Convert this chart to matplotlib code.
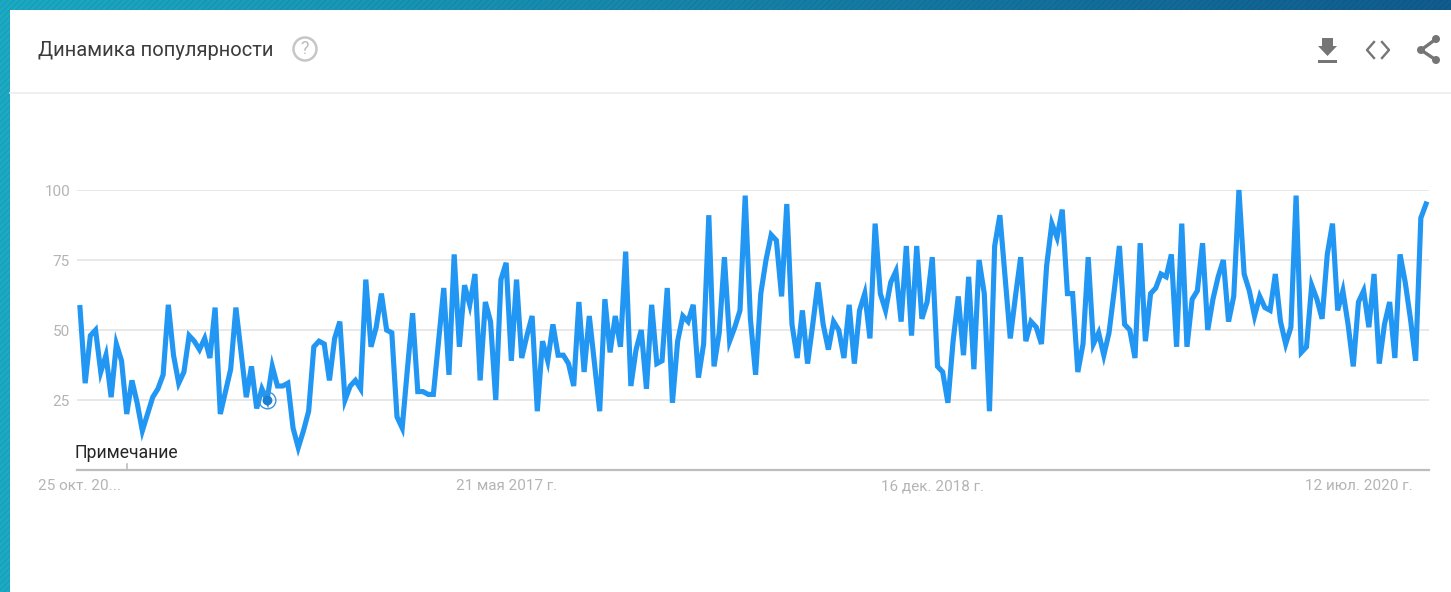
import numpy as np
import pandas as pd
import matplotlib
matplotlib.use("Agg")
import matplotlib.pyplot as plt
from matplotlib.patches import Circle, Polygon, Rectangle
from matplotlib.transforms import ScaledTranslation

plt.rcParams['font.family'] = ['Roboto', 'DejaVu Sans']

W, H = 1451, 592

# weekly interest
interest = [
    58, 31, 48, 50, 35, 41, 26, 45, 39, 20, 32, 24, 14, 20, 26, 29, 34, 59, 41, 31,
    35, 48, 46, 43, 47, 40, 58, 20, 28, 36, 58, 42, 26, 37, 22, 29, 25, 37, 30, 30,
    31, 15, 8, 14, 21, 44, 46, 45, 32, 47, 53, 25, 30, 32, 29, 68, 44, 51, 63, 50,
    49, 19, 15, 36, 56, 28, 28, 27, 27, 46, 65, 34, 77, 44, 66, 59, 70, 32, 60, 53,
    25, 68, 74, 39, 68, 40, 48, 55, 21, 46, 39, 52, 41, 41, 38, 30, 60, 35, 55, 38,
    21, 61, 42, 55, 44, 78, 30, 43, 50, 29, 59, 38, 39, 65, 24, 46, 55, 53, 59, 33,
    45, 91, 37, 49, 76, 46, 51, 57, 98, 54, 34, 63, 75, 84, 82, 62, 95, 52, 40, 57,
    38, 52, 67, 52, 43, 53, 50, 40, 59, 38, 57, 63, 47, 88, 63, 57, 67, 71, 53, 80,
    48, 80, 54, 60, 76, 37, 35, 24, 46, 62, 41, 69, 36, 75, 63, 21, 80, 91, 69, 47,
    62, 76, 46, 53, 51, 45, 73, 88, 83, 93, 63, 63, 35, 45, 76, 45, 49, 41, 49, 64,
    80, 52, 50, 40, 81, 46, 63, 65, 70, 69, 77, 44, 88, 44, 61, 64, 81, 50, 61, 69,
    75, 53, 62, 100, 70, 64, 55, 62, 58, 57, 70, 53, 45, 51, 98, 42, 44, 66, 61, 54,
    77, 88, 57, 64, 52, 37, 60, 64, 51, 70, 38, 52, 60, 40, 77, 67, 54, 39, 90, 95,
]
y_ticks = [25, 50, 75, 100]
x_tick_dates = ["2015-10-18", "2017-05-21", "2018-12-16", "2020-07-12"]
x_tick_labels = ["25 окт. 20...", "21 мая 2017 г.", "16 дек. 2018 г.", "12 июл. 2020 г."]
title = "Динамика популярности"
note_label = "Примечание"
note_idx = 9
marker_idx = 36

weeks = pd.date_range("2015-10-18", periods=len(interest), freq="7D")

fig = plt.figure(figsize=(W / 100, H / 100), dpi=100)

# background with the slanted stripes, pixel coordinates
bg = fig.add_axes([0, 0, 1, 1], zorder=0)
bg.set_xlim(0, W)
bg.set_ylim(H, 0)
bg.axis('off')
yy, xx = np.mgrid[0:H, 0:W]
t = (xx / W)[..., None]
teal = np.array([0x1b, 0xab, 0xc4]) / 255
navy = np.array([0x10, 0x5c, 0x8e]) / 255
img = teal * (1 - t) + navy * t
img = img * (1 - 0.05 * (((xx + yy) % 6) < 3))[..., None]
bg.imshow(img, extent=(0, W, H, 0), aspect='auto', interpolation='nearest')
bg.add_patch(Rectangle((10, 10), W - 10, H - 10, fc='white', ec='none'))
bg.plot([10, W], [93, 93], color='#ececec', lw=1.2)

bg.text(38, 51, title, fontsize=14.5, color='#3c3c3c', va='center', ha='left')
bg.add_patch(Circle((305, 49), 11.5, fc='none', ec='#c6c6c6', lw=1.8))
bg.text(305, 49.5, "?", fontsize=13, color='#bdbdbd', va='center', ha='center')

# download icon
icon = '#757575'
bg.add_patch(Polygon([(1322, 38), (1333, 38), (1333, 46), (1337, 46), (1327.5, 56), (1318, 46), (1322, 46)],
                     fc=icon, ec='none'))
bg.add_patch(Rectangle((1318, 60), 19, 2.6, fc=icon, ec='none'))
# embed icon
bg.plot([1374, 1367, 1374], [42, 50, 58], color=icon, lw=1.7)
bg.plot([1382, 1389, 1382], [42, 50, 58], color=icon, lw=1.7)
# share icon
bg.plot([1436, 1421, 1436], [39, 50, 60], color=icon, lw=2.4)
for cx, cy in [(1436, 39), (1421, 50), (1436, 60)]:
    bg.add_patch(Circle((cx, cy), 4, fc=icon, ec='none'))

# chart, placed to fit the reference grid
ax = fig.add_axes([77 / W, 1 - 470 / H, (1429 - 77) / W, 280 / H], zorder=1)
ax.patch.set_alpha(0)
ax.plot(weeks, interest, color='#2196f3', lw=3.7, solid_joinstyle='miter', clip_on=False, zorder=3)
ax.set_ylim(0, 100)
ax.set_xlim(weeks[0] - pd.Timedelta(days=4), weeks[-1] + pd.Timedelta(days=4))

ax.set_yticks(y_ticks)
ax.set_xticks(pd.to_datetime(x_tick_dates))
ax.set_xticklabels(x_tick_labels)
ax.tick_params(axis='both', length=0, labelsize=11, labelcolor='#b4b4b4')
ax.tick_params(axis='y', pad=5)
ax.tick_params(axis='x', pad=6.5)
# the last three date labels sit a little left of their dates
for lbl in ax.get_xticklabels()[1:]:
    lbl.set_transform(lbl.get_transform() + ScaledTranslation(-5 / 100, 0, fig.dpi_scale_trans))
ax.grid(axis='y', color='#e8e8e8', lw=1.4)
ax.set_axisbelow(True)
for side in ['top', 'left', 'right']:
    ax.spines[side].set_visible(False)
ax.spines['bottom'].set_color('#bdbdbd')
ax.spines['bottom'].set_linewidth(1.6)

# note marker and its tick
ax.plot(weeks[marker_idx], interest[marker_idx], 'o', ms=6, color='#1c7fd0', zorder=4)
ax.plot(weeks[marker_idx], interest[marker_idx], 'o', ms=12, mfc='none', mec='#3a93dc', mew=1, zorder=4)
ax.plot([weeks[note_idx]] * 2, [0, 2], color='#bdbdbd', lw=1.2)
ax.text(-2 / 1352, 17 / 280, note_label, transform=ax.transAxes, fontsize=12.7, color='#262626', va='center', ha='left')

fig.savefig("out.png", dpi=100)
